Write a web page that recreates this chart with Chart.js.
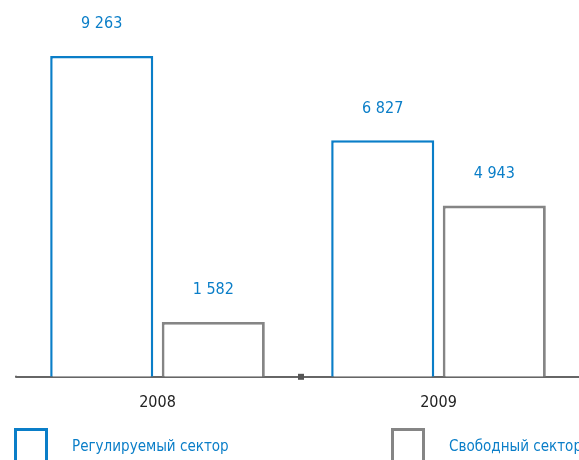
<!DOCTYPE html>
<html>
<head>
<meta charset="utf-8">
<script src="https://cdn.jsdelivr.net/npm/chart.js@4/dist/chart.umd.min.js"></script>
<style>
  html, body { margin: 0; padding: 0; background: #fff; }
  #wrap { width: 579px; height: 460px; }
</style>
</head>
<body>
<div id="wrap"><canvas id="chart"></canvas></div>
<script>
// данные
const years = ['2008', '2009'];
const regulated = [9263, 6827];
const free = [1582, 4943];
const seriesNames = ['Регулируемый сектор', 'Свободный сектор'];

const BLUE = '#0a7ec8';
const GRAY = '#858585';
const FONT = '"DejaVu Sans Condensed", "Liberation Sans Narrow", sans-serif';

const fmt = v => String(v).replace(/\B(?=(\d{3})+(?!\d))/g, ' ');

// подписи значений над столбцами
const valueLabels = {
  id: 'valueLabels',
  afterDatasetsDraw(chart) {
    const ctx = chart.ctx;
    ctx.save();
    ctx.font = '16px ' + FONT;
    ctx.fillStyle = BLUE;
    ctx.textAlign = 'center';
    ctx.textBaseline = 'middle';
    chart.data.datasets.forEach((ds, i) => {
      chart.getDatasetMeta(i).data.forEach((bar, j) => {
        ctx.fillText(fmt(ds.data[j]), bar.x, bar.y - 32);
      });
    });
    // ось чуть левее области графика
    const area = chart.chartArea;
    ctx.strokeStyle = '#666';
    ctx.lineWidth = 2;
    ctx.beginPath();
    ctx.moveTo(area.left - 2, area.bottom);
    ctx.lineTo(area.left, area.bottom);
    ctx.stroke();
    // маленький квадрат между годами
    const xs = chart.scales.x;
    const mid = (xs.getPixelForValue(0) + xs.getPixelForValue(1)) / 2;
    ctx.fillStyle = '#555';
    ctx.fillRect(mid, area.bottom - 3, 6, 6);
    ctx.restore();
  }
};

// легенда внизу
const bottomLegend = {
  id: 'bottomLegend',
  afterDraw(chart) {
    const ctx = chart.ctx;
    const left = [14, 391];
    ctx.save();
    ctx.font = '16px ' + FONT;
    ctx.textBaseline = 'middle';
    chart.data.datasets.forEach((ds, i) => {
      ctx.strokeStyle = ds.borderColor;
      ctx.lineWidth = 3;
      ctx.strokeRect(left[i] + 1.5, 429.5, 31, 40);
      ctx.fillStyle = BLUE;
      ctx.save();
      ctx.translate(left[i] + 58, 447);
      ctx.scale(0.94, 1);
      ctx.fillText(ds.label, 0, 0);
      ctx.restore();
    });
    ctx.restore();
  }
};

new Chart(document.getElementById('chart'), {
  type: 'bar',
  data: {
    labels: years,
    datasets: [
      { label: seriesNames[0], data: regulated, backgroundColor: '#fff', borderColor: BLUE, borderWidth: 2.5 },
      { label: seriesNames[1], data: free, backgroundColor: '#fff', borderColor: GRAY, borderWidth: 2.8 }
    ]
  },
  options: {
    responsive: true,
    maintainAspectRatio: false,
    animation: false,
    categoryPercentage: 0.794,
    barPercentage: 0.924,
    layout: { padding: { left: 17, right: 0, top: 10, bottom: 32 } },
    plugins: { legend: { display: false }, tooltip: { enabled: false } },
    scales: {
      x: {
        grid: { display: false, drawTicks: false },
        border: { display: true, color: '#666', width: 2 },
        ticks: { color: '#222', padding: 16, font: { size: 16, family: FONT } }
      },
      y: {
        display: false,
        min: 0,
        max: 10591
      }
    }
  },
  plugins: [valueLabels, bottomLegend]
});
</script>
</body>
</html>
